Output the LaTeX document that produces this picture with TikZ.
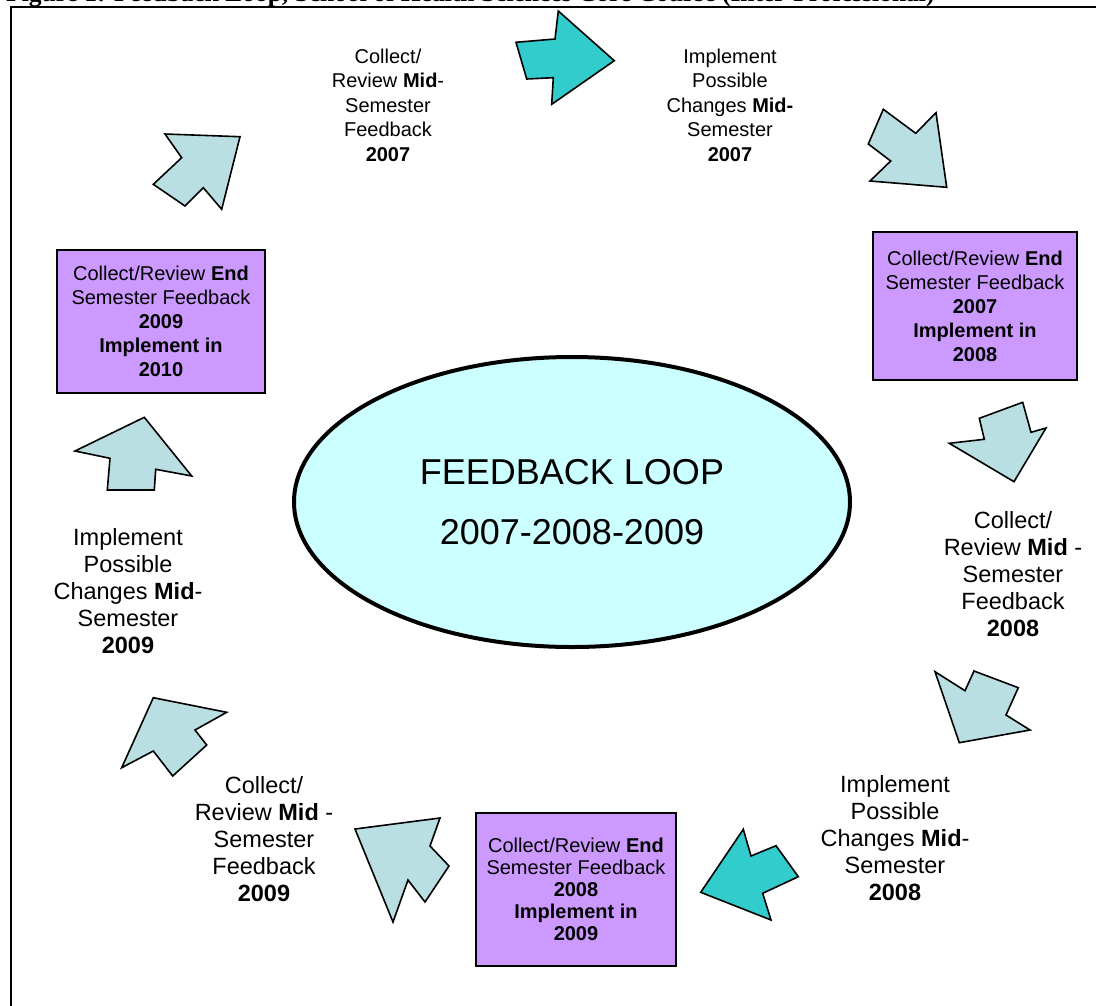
\documentclass[tikz,border=0pt]{standalone}
\usepackage{fontspec}
\setmainfont{Liberation Sans}
\newfontfamily\capfont{Liberation Serif}
\usetikzlibrary{shapes.geometric}
\definecolor{arrowblue}{RGB}{185,223,227}
\definecolor{tealfill}{RGB}{51,204,204}
\definecolor{boxpurple}{RGB}{204,153,255}
\definecolor{loopcyan}{RGB}{204,255,255}
\tikzset{
  blockarrow/.style={draw=black, line width=1.6pt, line join=miter, fill=arrowblue},
  tealarrow/.style={blockarrow, fill=tealfill},
  steptext/.style={align=center, font=\fontsize{23.5}{27}\selectfont, inner sep=0pt},
  toptext/.style={align=center, font=\fontsize{20}{24.5}\selectfont, inner sep=0pt},
  endbox/.style={draw=black, line width=1.6pt, fill=boxpurple, align=center,
    font=\fontsize{20}{24}\selectfont, inner sep=0pt},
}
\begin{document}
\begin{tikzpicture}[x=1pt,y=-1pt]
\useasboundingbox (0,0) rectangle (1096,1005);
\clip (0,0) rectangle (1096,1005);
% caption (cut off at the top)
\node[anchor=base west, inner sep=0pt, font=\capfont\bfseries\fontsize{25.5}{30}\selectfont] (caption) at (6,1.5)
  {Figure 1: Feedback Loop, School of Health Sciences Core Course (Inter-Professional)};
% frame
\draw[line width=1.5pt] (11,7) rectangle (1120,1030);
% central ellipse
\node[ellipse, draw=black, line width=4pt, fill=loopcyan, minimum width=556pt, minimum height=290pt,
  align=center, font=\fontsize{36}{60}\selectfont] (loop) at (572,502) {FEEDBACK LOOP\\2007-2008-2009};
% end-of-semester boxes
\node[endbox, minimum width=204pt, minimum height=148pt] (box1) at (975,306)
  {Collect/Review \textbf{End}\\Semester Feedback\\\textbf{2007}\\\textbf{Implement in}\\\textbf{2008}};
\node[endbox, minimum width=208pt, minimum height=143pt] (box2) at (161,321.5)
  {Collect/Review \textbf{End}\\Semester Feedback\\\textbf{2009}\\\textbf{Implement in}\\\textbf{2010}};
\node[endbox, minimum width=200pt, minimum height=153pt, font=\fontsize{20}{22}\selectfont] (box3) at (576,889.5)
  {Collect/Review \textbf{End}\\Semester Feedback\\\textbf{2008}\\\textbf{Implement in}\\\textbf{2009}};
% step texts
\node[toptext] (t1) at (388,105) {Collect/\\Review \textbf{Mid}-\\Semester\\Feedback\\\textbf{2007}};
\node[toptext] (t2) at (730,105) {Implement\\Possible\\Changes \textbf{Mid-}\\Semester\\\textbf{2007}};
\node[steptext] (t3) at (1013,574) {Collect/\\Review \textbf{Mid} -\\Semester\\Feedback\\\textbf{2008}};
\node[steptext] (t4) at (895,838) {Implement\\Possible\\Changes \textbf{Mid}-\\Semester\\\textbf{2008}};
\node[steptext] (t5) at (264,839) {Collect/\\Review \textbf{Mid} -\\Semester\\Feedback\\\textbf{2009}};
\node[steptext] (t6) at (128,591) {Implement\\Possible\\Changes \textbf{Mid}-\\Semester\\\textbf{2009}};
% block arrows
\draw[tealarrow] (516,42.3) -- (555,39) -- (558.3,11) -- (614.3,60.7) -- (551.7,104.3) -- (553.3,77.7) -- (526.7,79) -- cycle;
\draw[blockarrow] (883.3,109.3) -- (915.7,133.3) -- (936,112.7) -- (946.7,187.3) -- (870,181) -- (890.7,161) -- (868.3,144) -- cycle;
\draw[blockarrow] (240,136.7) -- (165,134) -- (181.7,157.7) -- (153.3,184.3) -- (185,206) -- (203.3,187.7) -- (221.7,209.3) -- cycle;
\draw[blockarrow] (979.3,418.3) -- (1022.7,402.3) -- (1031,432.3) -- (1046,428) -- (1014,481.7) -- (949.3,443.3) -- (984.3,439.3) -- cycle;
\draw[blockarrow] (935,671.7) -- (965,690.7) -- (974,671) -- (1018.3,687.7) -- (1006,715) -- (1030,730) -- (959.3,742.7) -- cycle;
\draw[tealarrow] (743.3,829.3) -- (751,856) -- (776,845.7) -- (798.3,876.7) -- (762.7,893.3) -- (771,920) -- (700.7,892.3) -- cycle;
\draw[blockarrow] (355,829) -- (440,818) -- (430,846) -- (449,866) -- (425,902) -- (408,880) -- (393,922) -- cycle;
\draw[blockarrow] (153.3,697.7) -- (226.7,712.3) -- (195,730) -- (206.7,745) -- (172.7,776) -- (153.3,751) -- (121.7,767.7) -- cycle;
\draw[blockarrow] (144.3,417.3) -- (191.7,476) -- (155.7,469.3) -- (154.3,490) -- (107.3,490) -- (110,458.3) -- (75,451) -- cycle;
\end{tikzpicture}
\end{document}
